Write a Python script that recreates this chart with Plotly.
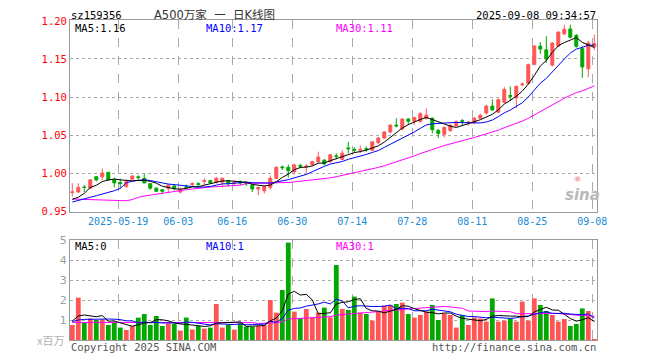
import plotly.graph_objects as go

# ---------------- data ----------------
dates = [
    "2025-05-07", "2025-05-08", "2025-05-09", "2025-05-12", "2025-05-13", "2025-05-14", "2025-05-15", "2025-05-16",
    "2025-05-19", "2025-05-20", "2025-05-21", "2025-05-22", "2025-05-23", "2025-05-26", "2025-05-27", "2025-05-28",
    "2025-05-29", "2025-05-30", "2025-06-03", "2025-06-04", "2025-06-05", "2025-06-06", "2025-06-09", "2025-06-10",
    "2025-06-11", "2025-06-12", "2025-06-13", "2025-06-16", "2025-06-17", "2025-06-18", "2025-06-19", "2025-06-20",
    "2025-06-23", "2025-06-24", "2025-06-25", "2025-06-26", "2025-06-27", "2025-06-30", "2025-07-01", "2025-07-02",
    "2025-07-03", "2025-07-04", "2025-07-07", "2025-07-08", "2025-07-09", "2025-07-10", "2025-07-11", "2025-07-14",
    "2025-07-15", "2025-07-16", "2025-07-17", "2025-07-18", "2025-07-21", "2025-07-22", "2025-07-23", "2025-07-24",
    "2025-07-25", "2025-07-28", "2025-07-29", "2025-07-30", "2025-07-31", "2025-08-01", "2025-08-04", "2025-08-05",
    "2025-08-06", "2025-08-07", "2025-08-08", "2025-08-11", "2025-08-12", "2025-08-13", "2025-08-14", "2025-08-15",
    "2025-08-18", "2025-08-19", "2025-08-20", "2025-08-21", "2025-08-22", "2025-08-25", "2025-08-26", "2025-08-27",
    "2025-08-28", "2025-08-29", "2025-09-01", "2025-09-02", "2025-09-03", "2025-09-04", "2025-09-05", "2025-09-08",
]

opens = [
    0.9745, 0.975, 0.9815, 0.980, 0.995, 0.995, 1.001, 0.991, 0.9875, 0.982, 0.992, 0.995, 0.993, 0.986, 0.980, 0.978,
    0.980, 0.983, 0.975, 0.982, 0.985, 0.986, 0.989, 0.990, 0.988, 0.988, 0.990, 0.9865, 0.988, 0.987, 0.984, 0.979,
    0.9765, 0.981, 0.993, 1.008, 1.0075, 1.002, 1.010, 1.008, 1.011, 1.015, 1.017, 1.015, 1.0225, 1.018, 1.033, 1.031,
    1.030, 1.032, 1.030, 1.040, 1.046, 1.054, 1.063, 1.058, 1.071, 1.068, 1.068, 1.072, 1.072, 1.056, 1.051, 1.056,
    1.062, 1.069, 1.066, 1.066, 1.072, 1.079, 1.088, 1.080, 1.093, 1.102, 1.099, 1.116, 1.118, 1.143, 1.167, 1.162,
    1.142, 1.167, 1.183, 1.1895, 1.181, 1.1636, 1.137, 1.166,
]
highs = [
    0.9865, 0.9865, 0.984, 0.992, 0.996, 1.006, 1.001, 0.994, 0.9925, 0.991, 0.997, 0.997, 0.999, 0.987, 0.981, 0.979,
    0.985, 0.984, 0.981, 0.985, 0.988, 0.988, 0.993, 0.991, 0.995, 0.994, 0.991, 0.990, 0.990, 0.989, 0.985, 0.982,
    0.983, 0.997, 1.009, 1.010, 1.011, 1.012, 1.012, 1.012, 1.016, 1.028, 1.018, 1.025, 1.026, 1.030, 1.041, 1.034,
    1.036, 1.035, 1.042, 1.047, 1.055, 1.064, 1.072, 1.072, 1.072, 1.074, 1.080, 1.085, 1.073, 1.058, 1.061, 1.064,
    1.069, 1.071, 1.068, 1.074, 1.078, 1.090, 1.097, 1.098, 1.113, 1.114, 1.115, 1.119, 1.144, 1.168, 1.1724, 1.180,
    1.172, 1.186, 1.195, 1.195, 1.183, 1.1667, 1.174, 1.182,
]
lows = [
    0.969, 0.974, 0.975, 0.9786, 0.989, 0.991, 0.991, 0.981, 0.980, 0.981, 0.991, 0.991, 0.9865, 0.978, 0.975, 0.973,
    0.974, 0.977, 0.973, 0.979, 0.982, 0.983, 0.984, 0.986, 0.986, 0.981, 0.982, 0.984, 0.984, 0.983, 0.975, 0.971,
    0.973, 0.978, 0.992, 1.004, 0.994, 0.998, 1.006, 1.0004, 1.009, 1.013, 1.010, 1.013, 1.018, 1.017, 1.026, 1.027,
    1.026, 1.028, 1.029, 1.038, 1.045, 1.052, 1.060, 1.056, 1.063, 1.063, 1.066, 1.070, 1.052, 1.046, 1.047, 1.054,
    1.061, 1.062, 1.062, 1.065, 1.071, 1.077, 1.082, 1.079, 1.092, 1.095, 1.0855, 1.114, 1.117, 1.142, 1.1566, 1.145,
    1.140, 1.166, 1.182, 1.177, 1.165, 1.125, 1.126, 1.162,
]
closes = [
    0.975, 0.981, 0.981, 0.991, 0.991, 1.000, 0.991, 0.987, 0.986, 0.9886, 0.996, 0.994, 0.987, 0.980, 0.976, 0.976,
    0.984, 0.980, 0.978, 0.981, 0.986, 0.985, 0.990, 0.987, 0.993, 0.993, 0.986, 0.987, 0.987, 0.986, 0.979, 0.981,
    0.982, 0.993, 1.0075, 1.007, 1.003, 1.0105, 1.009, 1.009, 1.015, 1.021, 1.012, 1.024, 1.022, 1.026, 1.032, 1.030,
    1.031, 1.031, 1.041, 1.046, 1.054, 1.063, 1.062, 1.071, 1.068, 1.073, 1.078, 1.076, 1.057, 1.052, 1.060, 1.063,
    1.0675, 1.068, 1.067, 1.072, 1.076, 1.088, 1.083, 1.0965, 1.110, 1.101, 1.114, 1.117, 1.1425, 1.167, 1.163, 1.150,
    1.171, 1.1855, 1.189, 1.1786, 1.1667, 1.1395, 1.171, 1.170,
]
volumes = [  # millions
    0.75, 2.12, 0.87, 1.08, 1.00, 1.03, 0.75, 0.87, 0.62, 0.50, 0.70, 1.12, 1.30, 0.75, 1.20, 0.70,
    0.83, 0.80, 0.47, 1.12, 0.53, 0.70, 0.57, 0.62, 1.80, 0.62, 0.75, 0.52, 0.83, 0.67, 0.67, 0.70,
    0.75, 2.00, 1.37, 2.50, 4.87, 1.42, 1.08, 1.55, 1.13, 1.37, 1.62, 1.13, 3.75, 1.55, 1.50, 2.17,
    1.37, 1.30, 0.97, 1.42, 1.72, 1.75, 1.80, 1.87, 1.30, 1.12, 1.25, 1.42, 1.75, 1.00, 1.33, 1.25,
    0.62, 1.25, 0.75, 1.13, 1.08, 0.92, 2.08, 0.92, 0.97, 1.08, 0.92, 1.92, 0.97, 2.08, 1.75, 1.45,
    1.25, 0.92, 1.05, 0.70, 0.80, 1.58, 1.45, 0.05,
]

# moving-average values for the first bars, whose windows start before the chart
price_ma5_head = [0.9654, 0.968, 0.9733, 0.981]
price_ma10_head = [0.9618, 0.9636, 0.9658, 0.968, 0.9701, 0.972, 0.974, 0.9767, 0.9798]
price_ma30_head = [
    0.9658, 0.9655, 0.965, 0.9648, 0.9645, 0.964, 0.9638, 0.9636, 0.9635, 0.9635, 0.965, 0.968, 0.9697, 0.971,
    0.9724, 0.9733, 0.974, 0.976, 0.977, 0.978, 0.979, 0.980, 0.981, 0.9815, 0.982, 0.9825, 0.983, 0.9835, 0.984,
]
vol_ma5_head = [0.95, 1.20, 1.25, 1.20]
vol_ma10_head = [0.92, 1.00, 1.03, 1.04, 1.04, 1.05, 1.05, 1.04, 1.02]
vol_ma30_head = [
    0.88, 0.88, 0.88, 0.88, 0.88, 0.88, 0.88, 0.88, 0.88, 0.88, 0.88, 0.88, 0.88, 0.88, 0.88,
    0.88, 0.88, 0.88, 0.88, 0.88, 0.88, 0.88, 0.88, 0.88, 0.88, 0.88, 0.88, 0.88, 0.88,
]

tick_dates = ["2025-05-19", "2025-06-03", "2025-06-16", "2025-06-30", "2025-07-14",
              "2025-07-28", "2025-08-11", "2025-08-25", "2025-09-08"]
price_ticks = [0.95, 1.00, 1.05, 1.10, 1.15, 1.20]
vol_ticks = [1, 2, 3, 4, 5]

symbol = "sz159356"
title = "A500万家\u00a0\u00a0一\u00a0\u00a0日K线图"
timestamp = "2025-09-08 09:34:57"
price_ma_labels = ["MA5:1.16", "MA10:1.17", "MA30:1.11"]
vol_ma_labels = ["MA5:0", "MA10:1", "MA30:1"]


# ---------------- helpers ----------------
def moving_avg(vals, n, head):
    out = []
    for i in range(len(vals)):
        if i < n - 1:
            out.append(head[i])
        else:
            out.append(sum(vals[i - n + 1:i + 1]) / n)
    return out


# The page body has an 8px margin, so the figure is drawn 8px in from the window corner.
OFF = 8
W, H = 660 - OFF, 360 - OFF
# plot-area edges in window pixels
L, R, T, B = 70, 597, 20, 340


def px(x):
    return (x - L) / (R - L)


def py(y):
    return (B - y) / (B - T)


RED = "#ff5555"
GREEN = "#00a800"
MONO = "DejaVu Sans Mono"

xs = list(range(len(dates)))
bar_colors = [RED if c >= o else GREEN for o, c in zip(opens, closes)]

fig = go.Figure()

fig.add_trace(go.Candlestick(
    x=xs, open=opens, high=highs, low=lows, close=closes,
    increasing=dict(line=dict(color=RED, width=1), fillcolor=RED),
    decreasing=dict(line=dict(color=GREEN, width=1), fillcolor=GREEN),
    whiskerwidth=0, xaxis="x", yaxis="y", showlegend=False, hoverinfo="skip",
))

for vals, color in [(moving_avg(closes, 30, price_ma30_head), "#ff00ff"),
                    (moving_avg(closes, 10, price_ma10_head), "#0000ff"),
                    (moving_avg(closes, 5, price_ma5_head), "#000000")]:
    fig.add_trace(go.Scatter(x=xs, y=vals, mode="lines", line=dict(color=color, width=1),
                             xaxis="x", yaxis="y", showlegend=False, hoverinfo="skip"))

fig.add_trace(go.Bar(x=xs, y=volumes, marker=dict(color=bar_colors, line=dict(width=0)),
                     width=0.8, xaxis="x2", yaxis="y2", showlegend=False, hoverinfo="skip"))

for vals, color in [(moving_avg(volumes, 30, vol_ma30_head), "#ff00ff"),
                    (moving_avg(volumes, 10, vol_ma10_head), "#0000ff"),
                    (moving_avg(volumes, 5, vol_ma5_head), "#000000")]:
    fig.add_trace(go.Scatter(x=xs, y=vals, mode="lines", line=dict(color=color, width=1),
                             xaxis="x2", yaxis="y2", showlegend=False, hoverinfo="skip"))

tickvals = [dates.index(d) - 0.35 for d in tick_dates]
ticktext = [tick_dates[0]] + [d[5:] for d in tick_dates[1:]]

xr = [-0.38, len(dates) - 0.55]
common_x = dict(range=xr, showgrid=True, gridcolor="#aaaaaa", griddash="dash", gridwidth=1,
                showline=True, mirror=True, linecolor="#999999", linewidth=1,
                zeroline=False, ticks="", tickvals=tickvals, fixedrange=True, automargin=False)

fig.update_layout(
    width=W, height=H,
    margin=dict(l=L - OFF, r=W - (R - OFF), t=T - OFF, b=H - (B - OFF), autoexpand=False),
    paper_bgcolor="white", plot_bgcolor="white",
    xaxis=dict(domain=[0, 1], anchor="y", ticktext=ticktext,
               tickfont=dict(family=MONO, size=10, color="#1a8ad4"),
               rangeslider=dict(visible=False), **common_x),
    xaxis2=dict(domain=[0, 1], anchor="y2", matches="x", showticklabels=False, **common_x),
    yaxis=dict(domain=[py(212), 1.0], range=[0.9487, 1.2013], tickvals=price_ticks, tickformat=".2f",
               tickfont=dict(family=MONO, size=10.5, color="#ff0000"),
               showgrid=True, gridcolor="#aaaaaa", griddash="dot", gridwidth=1,
               showline=True, mirror=True, linecolor="#999999", linewidth=1,
               zeroline=False, ticks="", fixedrange=True, automargin=False),
    yaxis2=dict(domain=[0, py(240)], range=[0, 5], tickvals=vol_ticks,
                tickfont=dict(family="DejaVu Sans", size=11, color="#a0a0a0"),
                showgrid=True, gridcolor="#aaaaaa", griddash="dot", gridwidth=1,
                showline=True, mirror=True, linecolor="#999999", linewidth=1,
                zeroline=False, ticks="", fixedrange=True, automargin=False),
    bargap=0.2,
)


def note(text, x, y, color="#000000", size=10, anchor="left", family=MONO, **kw):
    fig.add_annotation(text=text, x=px(x), y=py(y), xref="paper", yref="paper",
                       xanchor=anchor, yanchor="middle", showarrow=False,
                       font=dict(family=family, size=size, color=color), **kw)


note(symbol, 69, 14.5, "#000000", 10.5)
note(title, 214, 15, "#333333", 11.5, anchor="center", family="DejaVu Sans, Noto Sans CJK SC")
note(timestamp, 598, 14.5, "#000000", 10.5, anchor="right")

ma_colors = ["#000000", "#0000ff", "#ff00ff"]
ma_x = [73, 204, 334]
for lab, c, x in zip(price_ma_labels, ma_colors, ma_x):
    note(lab, x, 28, c, 10.5)
for lab, c, x in zip(vol_ma_labels, ma_colors, ma_x):
    note(lab, x, 246, c, 10.5)

note("x百万", 66, 340, "#b0b0b0", 11, anchor="right", family="Noto Sans CJK SC")
note("Copyright 2025 SINA.COM", 69, 347, "#555555", 10.5)
note("http://finance.sina.com.cn", 598, 347, "#555555", 10.5, anchor="right")
note("<b><i>sina</i></b>", 582, 195, "#b8b8b8", 15, anchor="center", family="DejaVu Sans")
note("◉", 577, 178, "#f3b0b0", 8, anchor="center", family="DejaVu Sans")

fig.write_html("out.html")
